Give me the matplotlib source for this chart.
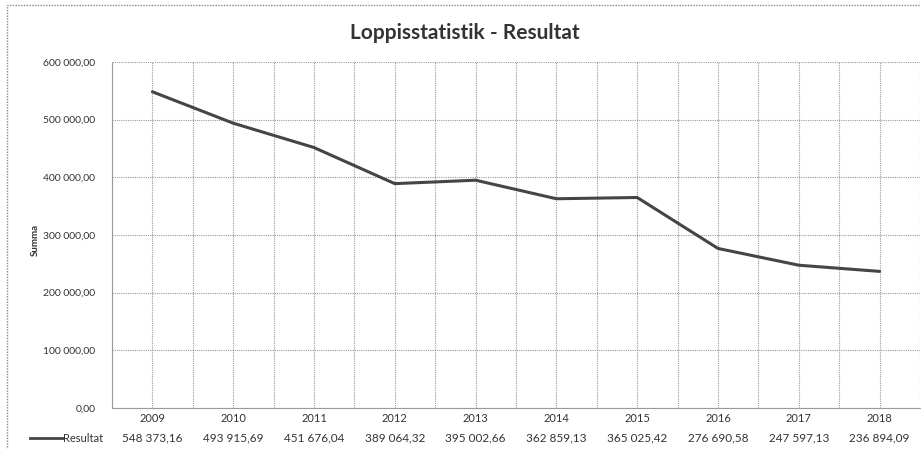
import matplotlib
matplotlib.use("Agg")
import matplotlib.pyplot as plt
from matplotlib.patches import Rectangle
from matplotlib.ticker import FuncFormatter, MultipleLocator
import matplotlib.transforms as mtransforms

years = ["2009", "2010", "2011", "2012", "2013", "2014", "2015", "2016", "2017", "2018"]
resultat = [548373.16, 493915.69, 451676.04, 389064.32, 395002.66,
            362859.13, 365025.42, 276690.58, 247597.13, 236894.09]
series_name = "Resultat"
title = "Loppisstatistik - Resultat"
ylabel = "Summa"

plt.rcParams['font.family'] = ['Lato', 'DejaVu Sans']

def fmt(v, pos=None):
    s = f"{v:,.2f}"
    s = s.replace(",", " ").replace(".", ",")
    return s

W, H = 921, 449
fig = plt.figure(figsize=(W / 100, H / 100), dpi=100)
fig.patch.set_facecolor("white")

ax = fig.add_axes([112 / W, 1 - 408 / H, 808 / W, 346 / H])
x = list(range(len(years)))
ax.plot(x, resultat, color="#454545", lw=2.2, solid_capstyle="round", zorder=3)
ax.set_xlim(-0.5, len(years) - 0.5)
ax.set_ylim(0, 600000)
ax.yaxis.set_major_locator(MultipleLocator(100000))
ax.yaxis.set_major_formatter(FuncFormatter(fmt))
ax.set_xticks([i * 0.5 - 0.5 for i in range(2 * len(years) + 1)])
ax.set_xticklabels([])
ax.tick_params(axis="x", length=0)
ax.tick_params(axis="y", length=0, pad=12, labelsize=7.5, colors="#333333")
ax.grid(True, color="#9a9a9a", linestyle=(0, (1, 1)), lw=0.8)
for sp in ax.spines.values():
    sp.set_visible(False)
for side in ("bottom", "left"):
    ax.spines[side].set_visible(True)
    ax.spines[side].set_color("#9a9a9a")
    ax.spines[side].set_linestyle((0, (1, 1)))

fig.text(465 / W, 1 - 33 / H, title, fontsize=15, fontweight="bold",
         color="#333333", ha="center", va="center")
fig.text(35 / W, 1 - 240 / H, ylabel, rotation=90, fontsize=7, fontweight="bold",
         color="#333333", ha="center", va="center")

# data table
trans = mtransforms.blended_transform_factory(ax.transData, fig.transFigure)
for i, (yr, v) in enumerate(zip(years, resultat)):
    ax.text(i, 1 - 419 / H, yr, transform=trans, ha="center", va="center",
            fontsize=8, color="#333333")
    ax.text(i, 1 - 438 / H, fmt(v), transform=trans, ha="center", va="center",
            fontsize=8.5, color="#333333")
fig.add_artist(plt.Line2D([30 / W, 63 / W], [1 - 438 / H, 1 - 438 / H],
                          transform=fig.transFigure, color="#454545", lw=2))
fig.text(63 / W, 1 - 438 / H, series_name, fontsize=8, color="#333333",
         ha="left", va="center")

# outer border
fig.add_artist(Rectangle((7 / W, -0.05), 1.0, (1 - 5 / H) + 0.05,
                         transform=fig.transFigure, fill=False,
                         edgecolor="#8a8a8a", lw=1, linestyle=(0, (1, 1))))

fig.savefig("out.png", dpi=100)
